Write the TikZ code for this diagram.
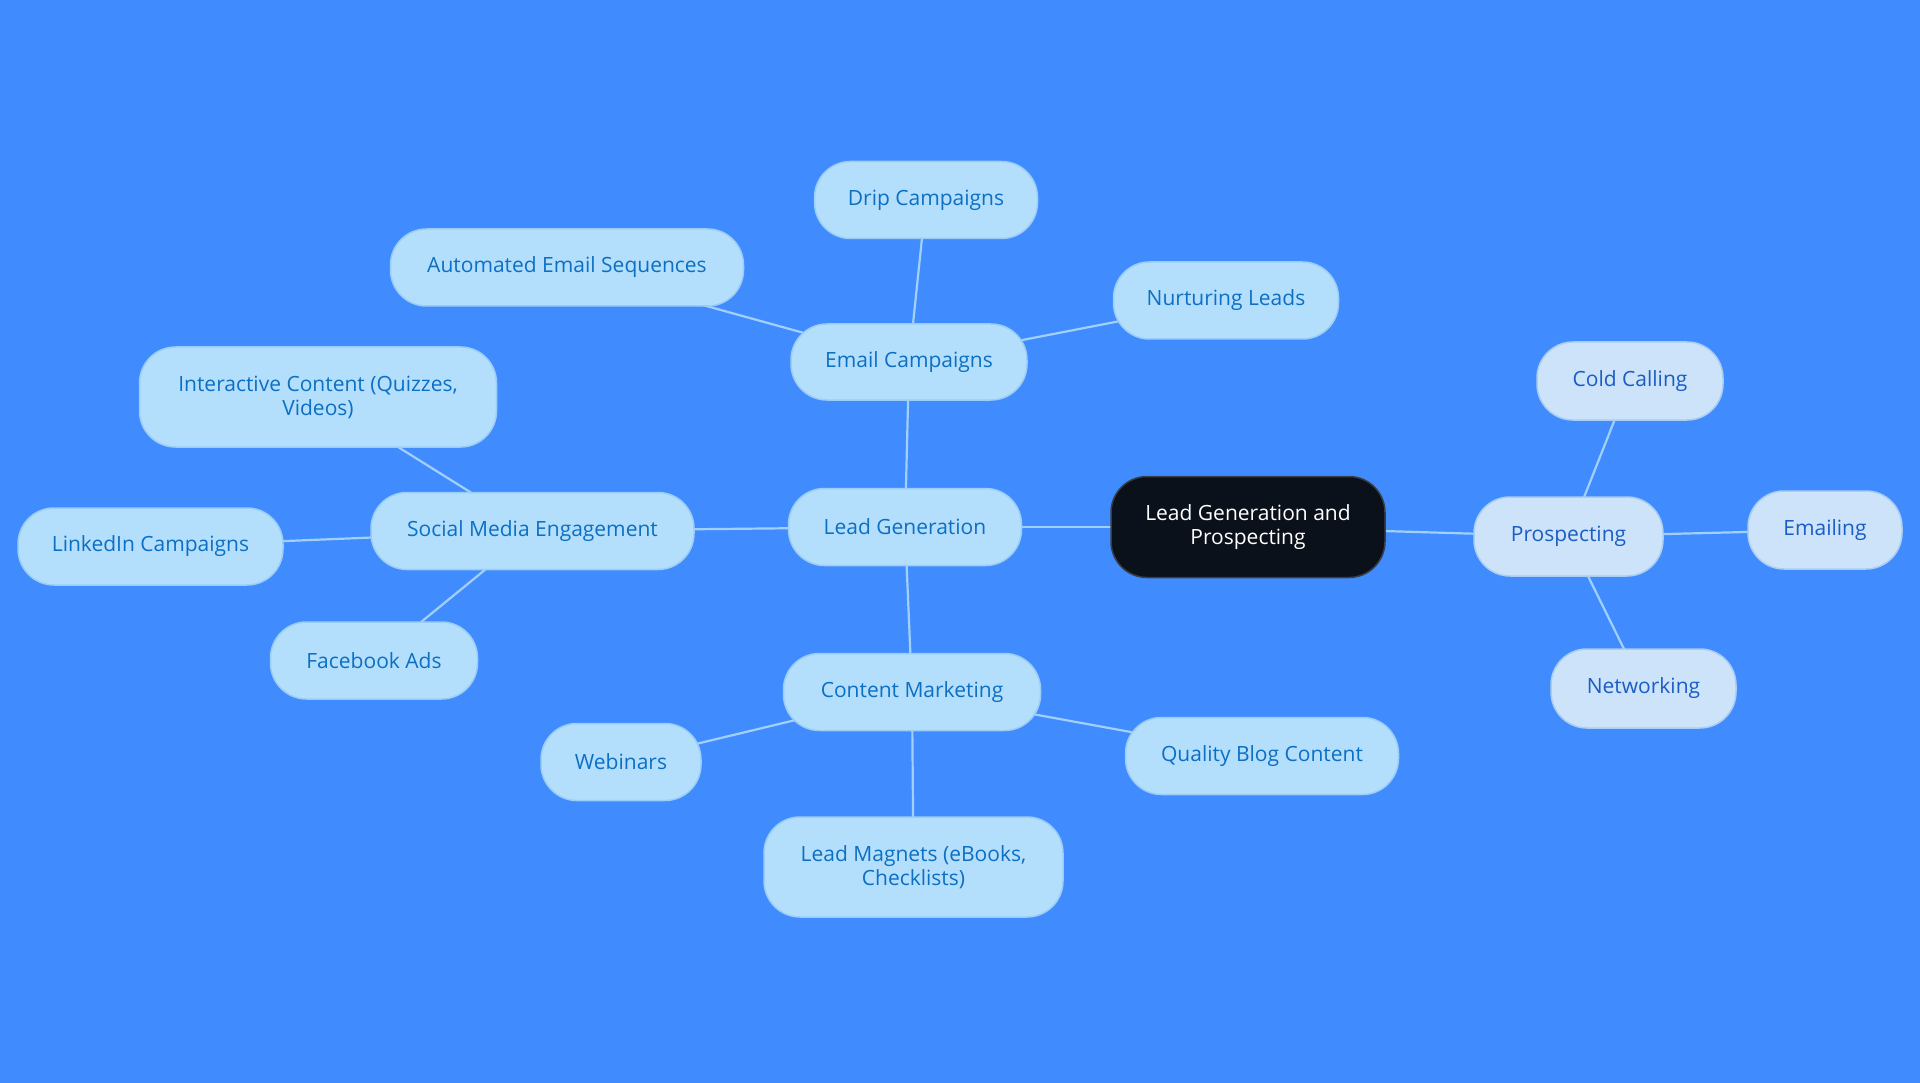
\documentclass[tikz,border=0pt]{standalone}
\usepackage{fontspec}
\setmainfont{Open Sans}
\definecolor{bg}{HTML}{408CFF}
\definecolor{lfill}{HTML}{B3DFFD}
\definecolor{ldraw}{HTML}{9CCDF6}
\definecolor{ltext}{HTML}{0D6FC3}
\definecolor{pfill}{HTML}{CCE3FA}
\definecolor{pdraw}{HTML}{A9CDF3}
\definecolor{ptext}{HTML}{1B5DC4}
\definecolor{cfill}{HTML}{0B111A}
\definecolor{cdraw}{HTML}{3A3F47}
\definecolor{edge}{HTML}{A3CFFB}
\pgfdeclarelayer{back}
\pgfdeclarelayer{edges}
\pgfsetlayers{back,edges,main}
\tikzset{
  base/.style={rounded corners=36pt, inner sep=0pt, align=center, line width=1.5pt,
    font=\fontsize{21}{24}\selectfont},
  lnode/.style={base, fill=lfill, draw=ldraw, text=ltext},
  pnode/.style={base, fill=pfill, draw=pdraw, text=ptext},
  cnode/.style={base, fill=cfill, draw=cdraw, text=white},
  conn/.style={draw=edge, line width=2.2pt},
  sz/.style 2 args={minimum width=#1pt, minimum height=#2pt}
}
\begin{document}
\begin{tikzpicture}[x=1pt,y=-1pt]
\begin{pgfonlayer}{back}
\fill[bg] (0,0) rectangle (1920,1083);
\end{pgfonlayer}
\useasboundingbox (0,0) rectangle (1920,1083);
\node[cnode, sz={274}{101}] (root) at (1248,527) {Lead Generation and\\Prospecting};
\node[lnode, sz={233}{77}] (lg) at (905,527) {Lead Generation};
\node[lnode, sz={236}{76}] (ec) at (909,362) {Email Campaigns};
\node[lnode, sz={223}{77}] (dc) at (926,200) {Drip Campaigns};
\node[lnode, sz={353}{77}] (aes) at (567,267.5) {Automated Email Sequences};
\node[lnode, sz={225}{77}] (nl) at (1226,300.5) {Nurturing Leads};
\node[lnode, sz={323}{77}] (sme) at (532.5,531) {Social Media Engagement};
\node[lnode, sz={357}{100}] (ic) at (318,397) {Interactive Content (Quizzes,\\Videos)};
\node[lnode, sz={265}{77}] (li) at (150.5,546.5) {LinkedIn Campaigns};
\node[lnode, sz={207}{77}] (fb) at (374,660.5) {Facebook Ads};
\node[lnode, sz={257}{77}] (cm) at (912,692) {Content Marketing};
\node[lnode, sz={160}{77}] (web) at (621,762) {Webinars};
\node[lnode, sz={273}{77}] (qbc) at (1262,756) {Quality Blog Content};
\node[lnode, sz={299}{100}] (lm) at (913.5,867) {Lead Magnets (eBooks,\\Checklists)};
\node[pnode, sz={189}{79}] (pr) at (1568.5,536.5) {Prospecting};
\node[pnode, sz={186}{78}] (cc) at (1630,381) {Cold Calling};
\node[pnode, sz={154}{78}] (em) at (1825,530) {Emailing};
\node[pnode, sz={185}{79}] (nw) at (1643.5,688.5) {Networking};
\begin{pgfonlayer}{edges}
\draw[conn] (root.center) -- (lg.center);
\draw[conn] (root.center) -- (pr.center);
\draw[conn] (lg.center) -- (ec.center);
\draw[conn] (lg.center) -- (sme.center);
\draw[conn] (lg.center) -- (cm.center);
\draw[conn] (ec.center) -- (dc.center);
\draw[conn] (ec.center) -- (aes.center);
\draw[conn] (ec.center) -- (nl.center);
\draw[conn] (sme.center) -- (ic.center);
\draw[conn] (sme.center) -- (li.center);
\draw[conn] (sme.center) -- (fb.center);
\draw[conn] (cm.center) -- (web.center);
\draw[conn] (cm.center) -- (qbc.center);
\draw[conn] (cm.center) -- (lm.center);
\draw[conn] (pr.center) -- (cc.center);
\draw[conn] (pr.center) -- (em.center);
\draw[conn] (pr.center) -- (nw.center);
\end{pgfonlayer}
\end{tikzpicture}
\end{document}
